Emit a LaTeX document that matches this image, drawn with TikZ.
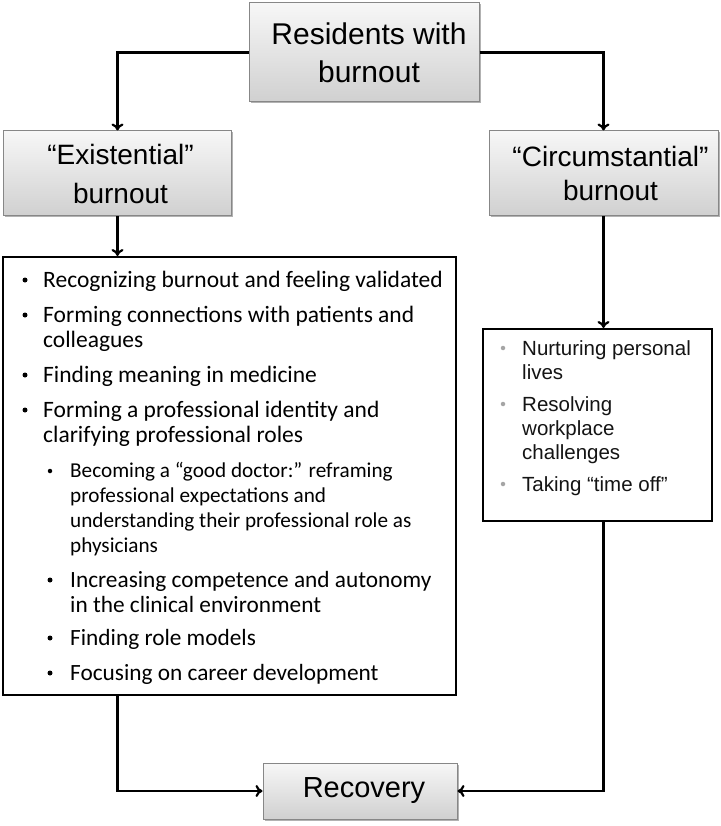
\documentclass[tikz,border=0pt]{standalone}
\usepackage{fontspec}
\setmainfont{Liberation Sans}
\newfontfamily\calib{Carlito}
\usetikzlibrary{arrows.meta,shadows}
\definecolor{gtop}{RGB}{247,247,247}
\definecolor{gbot}{RGB}{208,208,208}
\definecolor{gborder}{RGB}{135,135,135}
\definecolor{bulgray}{RGB}{165,165,165}
\tikzset{
  gbox/.style={draw=gborder, line width=1pt, top color=gtop, bottom color=gbot,
    drop shadow={shadow xshift=1.5pt, shadow yshift=-1.5pt, opacity=0.3, fill=black},
    align=center, inner sep=0pt},
  wbox/.style={draw=black, line width=2pt, fill=white, inner sep=0pt},
  conn/.style={draw=black, line width=2.2pt, -{To[length=7pt,width=12pt]}},
  mainln/.style={anchor=base west, inner sep=0pt, font=\calib\fontsize{23.5}{25}\selectfont},
  subln/.style={anchor=base west, inner sep=0pt, font=\calib\fontsize{23.3}{25}\selectfont},
  smln/.style={anchor=base west, inner sep=0pt, font=\calib\fontsize{21.2}{25}\selectfont},
  bdot/.style={circle, fill=black, inner sep=0pt, minimum size=5pt},
  rln/.style={anchor=base west, inner sep=0pt, font=\fontsize{20.5}{24}\selectfont, text=black!92},
  rdot/.style={circle, fill=bulgray, inner sep=0pt, minimum size=4.5pt},
}
\begin{document}
\begin{tikzpicture}[x=1pt,y=-1pt]
\useasboundingbox (0,0) rectangle (720,826);

% header boxes
\node[gbox, minimum width=230pt, minimum height=99pt, font=\fontsize{30}{38}\selectfont]
  (top) at (364,52.5) {\hspace*{10pt}Residents with\\\hspace*{10pt}burnout};
\node[gbox, minimum width=228pt, minimum height=85pt, font=\fontsize{28}{39}\selectfont]
  (ex) at (117.5,173.5) {\hspace*{6pt}“Existential”\\\hspace*{6pt}burnout};
\node[gbox, minimum width=229pt, minimum height=85pt, font=\fontsize{28}{34}\selectfont]
  (ci) at (603.5,173.5) {\hspace*{14pt}“Circumstantial”\\\hspace*{14pt}burnout};
\node[gbox, minimum width=194pt, minimum height=56pt, font=\fontsize{29}{34}\selectfont]
  (rec) at (360,791) {\hspace*{8pt}Recovery};

% list boxes
\node[wbox, minimum width=453pt, minimum height=438pt] (big) at (229.5,476) {};
\node[wbox, minimum width=229pt, minimum height=192pt] (small) at (597.5,425) {};

% big box text
\node[bdot] (b1) at (25,280) {};
\node[mainln] (t1) at (43,287) {Recognizing burnout and feeling validated};
\node[bdot] (b2) at (25,315) {};
\node[mainln] (t2) at (43,322) {Forming connections with patients and};
\node[mainln] (t3) at (43,347) {colleagues};
\node[bdot] (b4) at (25,375) {};
\node[mainln] (t4) at (43,382) {Finding meaning in medicine};
\node[bdot] (b5) at (25,410) {};
\node[mainln] (t5) at (43,417) {Forming a professional identity and};
\node[mainln] (t6) at (43,442) {clarifying professional roles};
\node[bdot, minimum size=4.5pt] (b7) at (50,471) {};
\node[smln] (t7) at (70,477) {Becoming a “good doctor:” reframing};
\node[smln] (t8) at (70,502) {professional expectations and};
\node[smln] (t9) at (70,527) {understanding their professional role as};
\node[smln] (t10) at (70,552) {physicians};
\node[bdot] (b11) at (50,580) {};
\node[subln] (t11) at (70,587) {Increasing competence and autonomy};
\node[subln] (t12) at (70,612) {in the clinical environment};
\node[bdot] (b13) at (50,638) {};
\node[subln] (t13) at (70,645) {Finding role models};
\node[bdot] (b14) at (50,673) {};
\node[subln] (t14) at (70,680) {Focusing on career development};

% small box text
\node[rdot] (r1b) at (503,348) {};
\node[rln] (r1) at (522,355) {Nurturing personal};
\node[rln] (r2) at (522,379) {lives};
\node[rdot] (r3b) at (503,404) {};
\node[rln] (r3) at (522,411) {Resolving};
\node[rln] (r4) at (522,435) {workplace};
\node[rln] (r5) at (522,459) {challenges};
\node[rdot] (r6b) at (503,484) {};
\node[rln] (r6) at (522,491) {Taking “time off”};

% connectors
\draw[conn] (top.west) -| (ex.north);
\draw[conn] (top.east) -| (ci.north);
\draw[conn] (ex.south) -- (ex.south |- big.north);
\draw[conn] (ci.south) -- (ci.south |- small.north);
\draw[conn] (ex.south |- big.south) |- (rec.west);
\draw[conn] (ci.south |- small.south) |- (rec.east);
\end{tikzpicture}
\end{document}
